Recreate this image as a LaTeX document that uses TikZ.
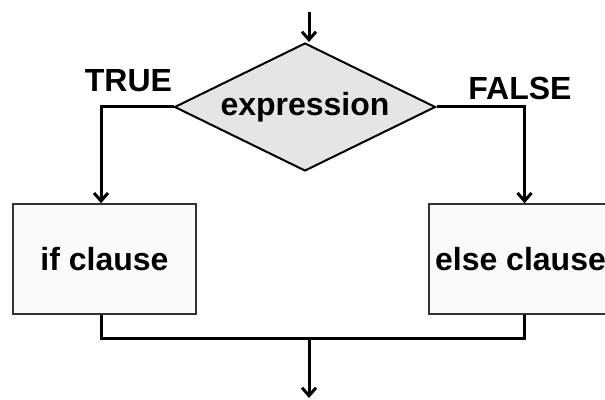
\documentclass[tikz,border=0pt]{standalone}
\usepackage{fontspec}
\setmainfont{Liberation Sans}
\usetikzlibrary{shapes.geometric,positioning,arrows.meta}

\begin{document}
\begin{tikzpicture}[x=1pt,y=1pt,>={Straight Barb[length=8pt,width=14pt]},on grid,
    font=\fontsize{32}{38}\selectfont\bfseries,
    decision/.style={diamond,draw,line width=2pt,fill=black!10,aspect=2,inner sep=0pt,minimum width=261pt,minimum height=128pt},
    clause/.style={rectangle,draw=black!80,line width=1.5pt,fill=black!2,minimum width=183pt,minimum height=110pt},
    flow/.style={line width=3pt}]
    \useasboundingbox (0,0) rectangle (605,399);
    \node[decision] (cond) at (305,292) {expression};
    \node[clause] (ifc) [below left=152pt and 200.5pt of cond] {if clause};
    \node[clause] (elsec) [below right=152pt and 215.5pt of cond] {else clause};
    \node[anchor=base] (true) at (128.5,307) {TRUE};
    \node[anchor=base] (false) at (520,299) {FALSE};
    \coordinate (start) at (309,387);
    \coordinate (merge) at (309,60);
    \coordinate (end) at (309,1);

    \draw[flow,->] (start) -- (start |- cond.north);
    \draw[flow,->] (cond.west) -| ([xshift=-3.5pt]ifc.north);
    \draw[flow,->] (cond.east) -| ([xshift=4pt]elsec.north);
    \draw[flow] ([xshift=-3.5pt]ifc.south) |- (merge) -| ([xshift=4pt]elsec.south);
    \draw[flow,->] (merge) -- (end);
\end{tikzpicture}
\end{document}
